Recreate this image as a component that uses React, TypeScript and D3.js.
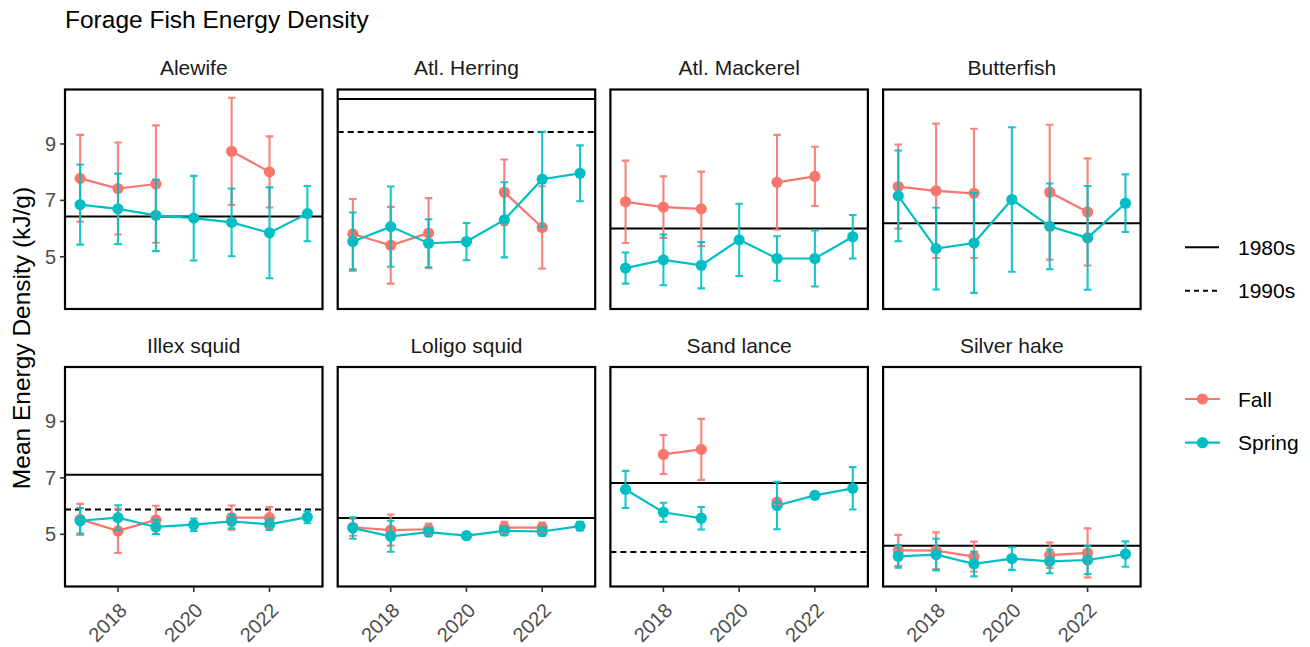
import React from "react";
import * as d3 from "d3";

const YEARS = [2017, 2018, 2019, 2020, 2021, 2022, 2023];
const SPECIES = ["Alewife", "Atl. Herring", "Atl. Mackerel", "Butterfish", "Illex squid", "Loligo squid", "Sand lance", "Silver hake"];

const FALL_MEAN: (number | null)[][] = [
  [7.78, 7.42, 7.58, null, 8.74, 8.01, null],
  [5.81, 5.41, 5.84, null, 7.29, 6.04, null],
  [6.95, 6.76, 6.70, null, 7.64, 7.85, null],
  [7.49, 7.34, 7.25, null, 7.29, 6.59, null],
  [5.53, 5.12, 5.51, null, 5.59, 5.59, null],
  [5.25, 5.15, 5.18, null, 5.24, 5.24, null],
  [null, 7.83, 8.01, null, 6.14, null, null],
  [4.43, 4.42, 4.21, null, 4.26, 4.34, null],
];
const FALL_SD: (number | null)[][] = [
  [1.54, 1.63, 2.08, null, 1.90, 1.26, null],
  [1.24, 1.36, 1.24, null, 1.16, 1.46, null],
  [1.46, 1.09, 1.32, null, 1.68, 1.05, null],
  [1.49, 2.38, 2.29, null, 2.39, 1.90, null],
  [0.55, 0.78, 0.50, null, 0.43, 0.38, null],
  [0.30, 0.55, 0.20, null, 0.20, 0.18, null],
  [null, 0.69, 1.08, null, 0.10, null, null],
  [0.55, 0.65, 0.53, null, 0.45, 0.87, null],
];
const SPRING_MEAN: (number | null)[][] = [
  [6.85, 6.70, 6.47, 6.37, 6.22, 5.85, 6.53],
  [5.54, 6.07, 5.48, 5.54, 6.31, 7.75, 7.96],
  [4.60, 4.89, 4.70, 5.60, 4.94, 4.94, 5.71],
  [7.16, 5.29, 5.49, 7.03, 6.08, 5.67, 6.90],
  [5.48, 5.59, 5.26, 5.34, 5.46, 5.35, 5.61],
  [5.22, 4.93, 5.08, 4.95, 5.12, 5.10, 5.29],
  [6.59, 5.78, 5.57, null, 6.02, 6.38, 6.63],
  [4.22, 4.28, 3.95, 4.14, 4.04, 4.09, 4.30],
];
const SPRING_SD: (number | null)[][] = [
  [1.42, 1.25, 1.27, 1.50, 1.20, 1.61, 0.98],
  [1.03, 1.42, 0.85, 0.66, 1.33, 1.68, 0.99],
  [0.55, 0.90, 0.82, 1.28, 0.79, 0.99, 0.77],
  [1.61, 1.45, 1.77, 2.56, 1.52, 1.84, 1.02],
  [0.45, 0.44, 0.25, 0.22, 0.25, 0.20, 0.22],
  [0.38, 0.55, 0.15, 0.10, 0.15, 0.15, 0.15],
  [0.66, 0.34, 0.40, null, 0.84, 0.10, 0.75],
  [0.40, 0.56, 0.44, 0.40, 0.42, 0.50, 0.45],
];
const BASE_1980S: (number | null)[] = [6.43, 10.59, 6.00, 6.19, 7.11, 5.58, 6.82, 4.59];
const BASE_1990S: (number | null)[] = [null, 9.42, null, null, 5.88, null, 4.37, null];

const Y_TICKS = [5, 7, 9];
const X_TICKS = [2018, 2020, 2022];
const SEASONS = ["Fall", "Spring"];
const SEASON_COLORS = ["#F8766D", "#00BFC4"];

const FONT = "'Liberation Sans', Arial, Helvetica, sans-serif";

export default function App() {
  const W = 1310, H = 647;
  const panelW = 257.5, panelH = 219.5;
  const colX = [65, 337.7, 610.4, 883.1];
  const rowY = [89.5, 367];

  const x = d3.scaleLinear().domain([2016.6, 2023.4]).range([0, panelW]);
  const y = d3.scaleLinear().domain([3.15, 10.93]).range([panelH, 0]);
  const capHalf = x(2017.1) - x(2017);

  const panels = SPECIES.map((name, i) => {
    const col = i % 4, row = Math.floor(i / 4);
    const px = colX[col], py = rowY[row];
    const seriesData = [
      { mean: FALL_MEAN[i], sd: FALL_SD[i] },
      { mean: SPRING_MEAN[i], sd: SPRING_SD[i] },
    ];
    const line = d3.line<number | null>()
      .defined((d) => d != null)
      .x((_, j) => x(YEARS[j]))
      .y((d) => y(d as number));
    return (
      <g key={name} transform={`translate(${px},${py})`}>
        <text x={panelW / 2} y={-14.5} textAnchor="middle" fontSize={21} fill="#1A1A1A">{name}</text>
        <rect x={0} y={0} width={panelW} height={panelH} fill="white" />
        {BASE_1980S[i] != null && (
          <line x1={0} x2={panelW} y1={y(BASE_1980S[i] as number)} y2={y(BASE_1980S[i] as number)} stroke="black" strokeWidth={2} />
        )}
        {BASE_1990S[i] != null && (
          <line x1={0} x2={panelW} y1={y(BASE_1990S[i] as number)} y2={y(BASE_1990S[i] as number)} stroke="black" strokeWidth={2} strokeDasharray="6,4" />
        )}
        {seriesData.map((s, k) => (
          <path key={"l" + k} d={line(s.mean) || ""} fill="none" stroke={SEASON_COLORS[k]} strokeWidth={2.2} />
        ))}
        {seriesData.map((s, k) => (
          <g key={"p" + k} fill={SEASON_COLORS[k]}>
            {s.mean.map((m, j) => m == null ? null : (
              <circle key={j} cx={x(YEARS[j])} cy={y(m)} r={5.6} />
            ))}
          </g>
        ))}
        {seriesData.map((s, k) => (
          <g key={"e" + k} stroke={SEASON_COLORS[k]} strokeWidth={2.1} fill="none" opacity={0.9}>
            {s.mean.map((m, j) => {
              const sd = s.sd[j];
              if (m == null || sd == null) return null;
              const cx = x(YEARS[j]);
              const y1 = y(m + sd), y2 = y(m - sd);
              return (
                <path key={j} d={`M${cx - capHalf},${y1}H${cx + capHalf}M${cx},${y1}V${y2}M${cx - capHalf},${y2}H${cx + capHalf}`} />
              );
            })}
          </g>
        ))}
        <rect x={0} y={0} width={panelW} height={panelH} fill="none" stroke="black" strokeWidth={2.2} />
        {col === 0 && Y_TICKS.map((t) => (
          <g key={"yt" + t}>
            <line x1={-5} x2={0} y1={y(t)} y2={y(t)} stroke="#333" strokeWidth={1.6} />
            <text x={-9} y={y(t)} textAnchor="end" dominantBaseline="central" fontSize={20} fill="#4D4D4D">{t}</text>
          </g>
        ))}
        {row === 1 && X_TICKS.map((t) => (
          <g key={"xt" + t}>
            <line x1={x(t)} x2={x(t)} y1={panelH} y2={panelH + 5.5} stroke="#333" strokeWidth={1.6} />
            <text transform={`translate(${x(t)},${panelH + 15}) rotate(-45)`} textAnchor="end" dy="0.72em" fontSize={20} fill="#4D4D4D">{t}</text>
          </g>
        ))}
      </g>
    );
  });

  return (
    <svg width={W} height={H} style={{ position: "absolute", left: 0, top: 0, background: "white" }} fontFamily={FONT}>
      <rect width={W} height={H} fill="white" />
      <text x={65} y={28} fontSize={24.5} fill="black">Forage Fish Energy Density</text>
      <text transform={`translate(21,${(rowY[0] + rowY[1] + panelH) / 2}) rotate(-90)`} textAnchor="middle" dominantBaseline="central" fontSize={24.5} fill="black">Mean Energy Density (kJ/g)</text>
      {panels}
      <g>
        <line x1={1185} x2={1219} y1={247.3} y2={247.3} stroke="black" strokeWidth={2} />
        <text x={1238} y={247.3} dominantBaseline="central" fontSize={21} fill="black">1980s</text>
        <line x1={1185} x2={1219} y1={290.7} y2={290.7} stroke="black" strokeWidth={2} strokeDasharray="5,4" />
        <text x={1238} y={290.7} dominantBaseline="central" fontSize={21} fill="black">1990s</text>
        {SEASONS.map((s, k) => {
          const ly = 399 + k * 43.7;
          return (
            <g key={s}>
              <line x1={1185} x2={1220} y1={ly} y2={ly} stroke={SEASON_COLORS[k]} strokeWidth={2.2} />
              <circle cx={1202.5} cy={ly} r={5.6} fill={SEASON_COLORS[k]} />
              <text x={1238} y={ly} dominantBaseline="central" fontSize={21} fill="black">{s}</text>
            </g>
          );
        })}
      </g>
    </svg>
  );
}
